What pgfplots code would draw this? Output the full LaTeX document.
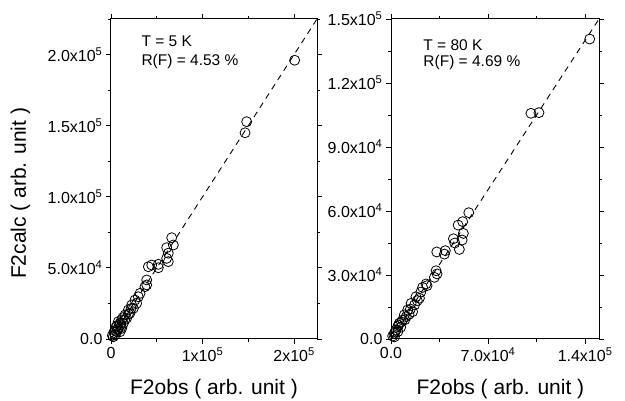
\documentclass[border=0pt]{standalone}
\usepackage{fontspec}
\setmainfont{Liberation Sans}
\usepackage{pgfplots}
\pgfplotsset{compat=1.18}
\newcommand{\ex}[1]{\textsuperscript{#1}}
\pgfplotstableread{
x y
2.006e5 1.96e5
1.482e5 1.528e5
1.464e5 1.45e5
6.63e4 7.12e4
6.81e4 6.61e4
6.08e4 6.42e4
6.26e4 6.03e4
6.08e4 5.67e4
6.26e4 5.44e4
5.17e4 5.25e4
5.17e4 5.01e4
4.45e4 5.2e4
4.08e4 5.08e4
3.9e4 4.15e4
3.9e4 3.8e4
3.71e4 3.68e4
3.17e4 3.21e4
2.98e4 2.97e4
2.62e4 2.74e4
2.8e4 2.51e4
2.26e4 2.39e4
2.44e4 2.16e4
1.89e4 2.04e4
2.07e4 1.81e4
1.53e4 1.69e4
1.71e4 1.46e4
1.17e4 1.34e4
1.35e4 1.1e4
9.8e3 9.8e3
8.0e3 7.5e3
1.17e4 7.5e3
6.2e3 5.1e3
4.4e3 2.8e3
2.5e3 1.6e3
9.8e3 5.1e3
8.0e3 1.22e4
1.3e4 1.5e4
5.5e3 8.5e3
3.5e3 4.5e3
1.0e4 1.1e4
1.5e4 1.35e4
1.9e4 1.75e4
2.2e4 2.15e4
7.0e3 6.5e3
1.1e4 8.5e3
4.0e3 6.0e3
1.5e3 2.5e3
6.5e3 9.5e3
}\leftdata
\pgfplotstableread{
x y
1.433e5 1.406e5
1.067e5 1.061e5
1.009e5 1.058e5
5.61e4 5.92e4
5.17e4 5.5e4
4.84e4 5.34e4
5.22e4 4.95e4
5.13e4 4.64e4
4.5e4 4.7e4
4.6e4 4.5e4
4.93e4 4.2e4
3.92e4 4.14e4
3.85e4 3.98e4
3.3e4 4.08e4
3.25e4 3.2e4
3.32e4 3.05e4
3.13e4 2.89e4
2.6e4 2.5e4
2.53e4 2.58e4
2.28e4 2.42e4
2.15e4 2.2e4
2.05e4 1.91e4
1.8e4 1.98e4
1.45e4 1.67e4
1.56e4 1.28e4
1.3e4 1.15e4
1.2e4 1.36e4
1.0e4 9.0e3
9.6e3 1.13e4
8.4e3 8.9e3
7.0e3 5.5e3
6.0e3 7.4e3
4.8e3 5.8e3
5.0e3 3.5e3
3.6e3 4.2e3
2.4e3 2.7e3
2.5e3 1.0e3
1.2e3 1.4e3
1.1e4 1.05e4
1.4e4 1.4e4
1.7e4 1.6e4
7.5e3 8.0e3
5.5e3 6.5e3
3.0e3 3.3e3
1.9e4 1.8e4
}\rightdata
\begin{document}
\begin{tikzpicture}
\useasboundingbox (0,0) rectangle (625pt,401pt);
\pgfplotsset{
  myax/.style={
    scale only axis, height=320pt,
    anchor=south west,
    ymin=0, xmin=0,
    scaled ticks=false,
    tick align=outside,
    major tick length=5pt, minor tick length=3pt,
    axis line style={line width=1pt},
    every tick/.style={line width=0.9pt, black},
    tick label style={font=\fontsize{16}{18}\selectfont},
    label style={font=\fontsize{21}{24}\selectfont},
    xlabel={F2obs ( arb. unit )},
    clip=false,
  },
  pts/.style={only marks, mark=o, mark size=5pt, black, mark options={line width=0.8pt}},
  dline/.style={black, line width=0.9pt, dash pattern=on 6pt off 5pt},
}
\begin{axis}[myax,
  at={(111pt,62pt)}, width=206pt,
  xmax=2.25e5, ymax=2.25e5,
  xtick={0,1e5,2e5},
  xticklabels={0, 1x10\ex{5}, 2x10\ex{5}},
  minor xtick={5e4,1.5e5},
  ytick={0,5e4,1e5,1.5e5,2e5},
  yticklabels={0.0, 5.0x10\ex{4}, 1.0x10\ex{5}, 1.5x10\ex{5}, 2.0x10\ex{5}},
  minor ytick={2.5e4,7.5e4,1.25e5,1.75e5,2.25e5},
  ylabel={F2calc ( arb. unit )},
  ylabel style={at={(axis description cs:-0.439,0.455)}, anchor=center},
  xlabel style={at={(axis description cs:0.5,-0.172)}, anchor=base},
]
\addplot[dline] coordinates {(0,0) (2.25e5,2.25e5)};
\addplot[pts] table[x=x,y=y] {\leftdata};
\node[anchor=base west, font=\fontsize{15.5}{18}\selectfont] at (rel axis cs:0.131,0.9125) {T = 5 K};
\node[anchor=base west, font=\fontsize{15.5}{18}\selectfont] at (rel axis cs:0.131,0.856) {R(F) = 4.53 \%};
\end{axis}
\begin{axis}[myax,
  at={(391pt,62pt)}, width=208pt,
  xmax=1.5e5, ymax=1.5e5,
  xtick={0,7e4,1.4e5},
  xticklabels={0.0, 7.0x10\ex{4}, 1.4x10\ex{5}},
  minor xtick={3.5e4,1.05e5},
  ytick={0,3e4,6e4,9e4,1.2e5,1.5e5},
  yticklabels={0.0, 3.0x10\ex{4}, 6.0x10\ex{4}, 9.0x10\ex{4}, 1.2x10\ex{5}, 1.5x10\ex{5}},
  minor ytick={1.5e4,4.5e4,7.5e4,1.05e5,1.35e5},
  xlabel style={at={(axis description cs:0.526,-0.172)}, anchor=base},
]
\addplot[dline] coordinates {(0,0) (1.5e5,1.5e5)};
\addplot[pts] table[x=x,y=y] {\rightdata};
\node[anchor=base west, font=\fontsize{15.5}{18}\selectfont] at (rel axis cs:0.139,0.903) {T = 80 K};
\node[anchor=base west, font=\fontsize{15.5}{18}\selectfont] at (rel axis cs:0.139,0.851) {R(F) = 4.69 \%};
\end{axis}
\end{tikzpicture}
\end{document}
